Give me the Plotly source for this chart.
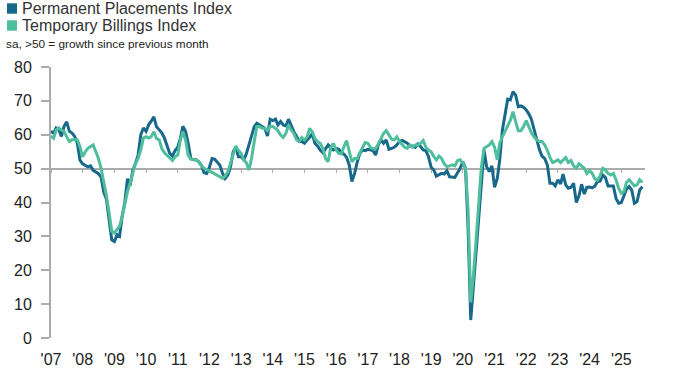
import pandas as pd
import plotly.graph_objects as go

# ---------------- data (monthly, Jan 2007 - Sep 2025) ----------------
START_MONTH = "2007-01-01"

permanent_placements = [
    # 2007
    61, 60.5, 62, 61.5, 59.5, 62.5, 63.8, 61, 60.5, 59.5, 57.5, 52.5,
    # 2008
    51.4, 51, 50.5, 50.8, 49.5, 49, 48.5, 47.5, 43, 41, 34, 29,
    # 2009
    28.5, 30.5, 30, 36, 40, 47, 45, 49.5, 51.5, 54, 60, 62,
    # 2010
    61, 63, 64, 65.3, 62.4, 61.4, 60.6, 59, 56.5, 54.5, 53.7, 55.3,
    # 2011
    56.3, 59, 62.5, 61, 57.5, 53, 52.6, 52.6, 52, 51, 48.8, 48.6,
    # 2012
    50.4, 53, 52.8, 52, 51, 48.6, 47.1, 48.1, 50.6, 55, 56.3, 53.5,
    # 2013
    53.5, 52.6, 54.3, 57, 60, 62.4, 63.4, 62.9, 62.6, 61.9, 59.6, 64.6,
    # 2014
    64.2, 64.6, 62.9, 63.9, 62.9, 62.6, 64.6, 62.6, 60.9, 59.6, 58, 58,
    # 2015
    57.5, 58.5, 59.2, 60.4, 57.5, 56.7, 55.5, 54.7, 56, 57, 56, 55.5,
    # 2016
    56, 55.7, 54.7, 54.3, 53.3, 51, 46.2, 48.6, 52, 54.5, 55.5, 55.3,
    # 2017
    55.7, 55.4, 55.3, 54, 57, 58.5, 57.5, 58.5, 55.7, 56, 56.3, 57,
    # 2018
    58, 58.3, 58, 57.5, 56.7, 56.7, 56.3, 57.3, 56.5, 55.5, 55.3, 53.5,
    # 2019
    50.4, 49.6, 47.8, 48.1, 48.6, 48.4, 49.4, 47.6, 47.4, 47.4, 48.8, 50.1,
    # 2020
    52, 50, 33, 5.3, 15, 25, 35.5, 45.5, 55.5, 50.6, 49.1, 50.8,
    # 2021
    44.5, 47.1, 52.6, 61.4, 65.8, 70.5, 70.3, 72.7, 71.7, 68.3, 68.5, 68.1,
    # 2022
    67.3, 66.1, 64.6, 61.6, 58.9, 55.7, 53.7, 53, 51.1, 45.7, 45.7, 44.9,
    # 2023
    46.7, 45.5, 48.4, 45.2, 44.2, 44.5, 45.7, 40, 42, 45.4, 42.5, 44.5,
    # 2024
    44.6, 44.3, 44.8, 46.2, 46.3, 48.1, 47.4, 44.9, 44.9, 44.9, 41.2, 39.8,
    # 2025
    40, 42.2, 43.9, 44.7, 43.7, 39.8, 40.3, 43.7, 44.7,
]

temporary_billings = [
    # 2007
    59.6, 59, 61.4, 62, 61.4, 61, 59.4, 58, 58.5, 58.5, 58.5, 56.5,
    # 2008
    53.5, 55, 56, 56.5, 57, 55, 53, 50, 46, 42, 37, 31.5,
    # 2009
    31, 32, 33, 36, 40, 43.2, 45.7, 48.6, 51.6, 53, 55.5, 59,
    # 2010
    59.4, 59, 59.4, 60.9, 58.9, 58.5, 56, 54.7, 54, 53.3, 52.4, 53.5,
    # 2011
    54, 58.5, 60.9, 58.5, 54, 52.8, 52.6, 52.6, 52, 50.8, 50.1, 49.6,
    # 2012
    49.3, 48.9, 48.4, 48.1, 47.6, 47.1, 47.8, 49.1, 51.6, 54, 56.7, 55.3,
    # 2013
    54.5, 52.6, 51.8, 49.6, 53, 58, 62.4, 62.4, 61.9, 61.9, 61.2, 62.4,
    # 2014
    62.4, 61.9, 61.2, 59.9, 59.2, 60.4, 62.9, 61.4, 60.4, 58.5, 58, 59.2,
    # 2015
    58.5, 59.4, 61.9, 60.9, 58.9, 58, 57.5, 56, 53, 52, 56.3, 57.5,
    # 2016
    55.5, 54.5, 54.3, 56.5, 58.3, 55, 52, 53, 53, 54.7, 56.3, 57.7,
    # 2017
    57.5, 56.2, 55.9, 55.9, 57.3, 58.8, 60.4, 61.2, 59.9, 58.7, 58.5, 59.4,
    # 2018
    58, 57, 56.3, 56, 57, 56.3, 57, 57, 57.5, 58.3, 56.3, 55.5,
    # 2019
    55, 53.5, 52.6, 53.7, 53, 51.4, 50.6, 50.8, 51.1, 50.8, 52.4, 52.6,
    # 2020
    51.6, 50.1, 38, 10.5, 18.2, 28.8, 39.6, 50.3, 56, 56.5, 57, 58,
    # 2021
    56.3, 52.6, 57.5, 59.4, 61.2, 62.6, 64.2, 66.8, 63.9, 61.2, 61.2, 62.4,
    # 2022
    64.2, 62.4, 60.6, 59.4, 58.5, 58, 58, 57, 55.5, 53.3, 51.8, 52.1,
    # 2023
    52.6, 51.8, 52.4, 53.3, 51.8, 52.4, 50.8, 50.1, 51.4, 50.8, 50.1, 48.6,
    # 2024
    49.4, 48.6, 47, 46.6, 47.8, 50.1, 49.6, 48.6, 48.1, 48.6, 46.7, 44.2,
    # 2025
    42.7, 43.2, 45.9, 46.7, 45.9, 44.9, 45.2, 46.7, 45.9,
]

tick_years = list(range(2007, 2026))
tick_labels = ["'" + str(y)[2:] for y in tick_years]
y_ticks = [0, 10, 20, 30, 40, 50, 60, 70, 80]
THRESHOLD = 50
Y_MIN, Y_MAX = 0, 80

series_names = ["Permanent Placements Index", "Temporary Billings Index"]
subtitle = "sa, >50 = growth since previous month"

# ---------------- styling ----------------
PERM_COLOR = "#17688a"
TEMP_COLOR = "#4fbe9d"
AXIS_COLOR = "#ababab"
TEXT_COLOR = "#222222"
FONT = "Liberation Sans, Arial, sans-serif"

W, H = 675, 374
PLOT_L, PLOT_R, PLOT_T, PLOT_B = 51, 645, 67, 338   # page pixels
M_L, M_R, M_T, M_B = PLOT_L, W - PLOT_R, PLOT_T, H - PLOT_B

dates = pd.date_range(START_MONTH, periods=len(permanent_placements), freq="MS")
tick_vals = [f"{y}-01-01" for y in tick_years]
x_range = [dates[0], dates[-1] + pd.DateOffset(months=1)]

fig = go.Figure()
fig.add_trace(go.Scatter(x=dates, y=permanent_placements, mode="lines",
                         line=dict(color=PERM_COLOR, width=3),
                         name=series_names[0], showlegend=False))
fig.add_trace(go.Scatter(x=dates, y=temporary_billings, mode="lines",
                         line=dict(color=TEMP_COLOR, width=3),
                         name=series_names[1], showlegend=False))
# carrier trace for the axis drawn at the 50 line
fig.add_trace(go.Scatter(x=[dates[0]], y=[THRESHOLD], mode="markers",
                         marker=dict(opacity=0), xaxis="x2", yaxis="y",
                         showlegend=False, hoverinfo="skip"))

fig.update_layout(
    width=W, height=H,
    margin=dict(l=M_L, r=M_R, t=M_T, b=M_B, autoexpand=False),
    paper_bgcolor="white", plot_bgcolor="white",
    font=dict(family=FONT, color=TEXT_COLOR),
    xaxis=dict(
        type="date", range=x_range, showgrid=False, zeroline=False, automargin=False,
        showline=False, tickmode="array", tickvals=tick_vals, ticktext=tick_labels,
        ticks="outside", ticklen=0, tickcolor="rgba(0,0,0,0)",
        ticklabelstandoff=7,
        tickfont=dict(size=16, color=TEXT_COLOR, family=FONT),
    ),
    xaxis2=dict(
        type="date", range=x_range, overlaying="x", anchor="free",
        position=(THRESHOLD - Y_MIN) / (Y_MAX - Y_MIN), automargin=False,
        showgrid=False, zeroline=False, showline=True, linecolor=AXIS_COLOR,
        linewidth=1.5, tickmode="array", tickvals=tick_vals,
        ticks="outside", ticklen=4, tickwidth=1, tickcolor=AXIS_COLOR,
        showticklabels=False, layer="below traces",
    ),
    yaxis=dict(
        range=[Y_MIN, Y_MAX], showgrid=False, zeroline=False, automargin=False,
        showline=True, linecolor=AXIS_COLOR, linewidth=2,
        tickmode="array", tickvals=y_ticks,
        ticks="outside", ticklen=8, tickwidth=1.5, tickcolor=AXIS_COLOR,
        ticklabelstandoff=6,
        tickfont=dict(size=16, color=TEXT_COLOR, family=FONT),
    ),
    showlegend=False,
)

# ---------------- legend (manual, top-left) ----------------
plot_w = W - M_L - M_R
plot_h = H - M_T - M_B

def px_x(page_x):
    return (page_x - M_L) / plot_w

def px_y(page_y):
    return (H - M_B - page_y) / plot_h

legend_rows = [(series_names[0], PERM_COLOR, 8.5), (series_names[1], TEMP_COLOR, 25.5)]
for name, color, cy in legend_rows:
    fig.add_shape(type="rect", xref="paper", yref="paper",
                  x0=px_x(7), x1=px_x(17), y0=px_y(cy + 5.2), y1=px_y(cy - 5.2),
                  fillcolor=color, line=dict(width=0))
    fig.add_annotation(xref="paper", yref="paper", x=px_x(20), y=px_y(cy),
                       text=name, showarrow=False, xanchor="left", yanchor="middle",
                       font=dict(size=16, color="#333333", family=FONT))

fig.add_annotation(xref="paper", yref="paper", x=px_x(4), y=px_y(44.5),
                   text=subtitle, showarrow=False, xanchor="left", yanchor="middle",
                   font=dict(size=11.8, color="#222222", family=FONT))

# remove the browser's default page margin so the figure sits at the top-left corner
fig.write_html("out.html",
               config={"displayModeBar": False},
               post_script="document.body.style.margin='0';document.body.style.overflow='hidden';")
